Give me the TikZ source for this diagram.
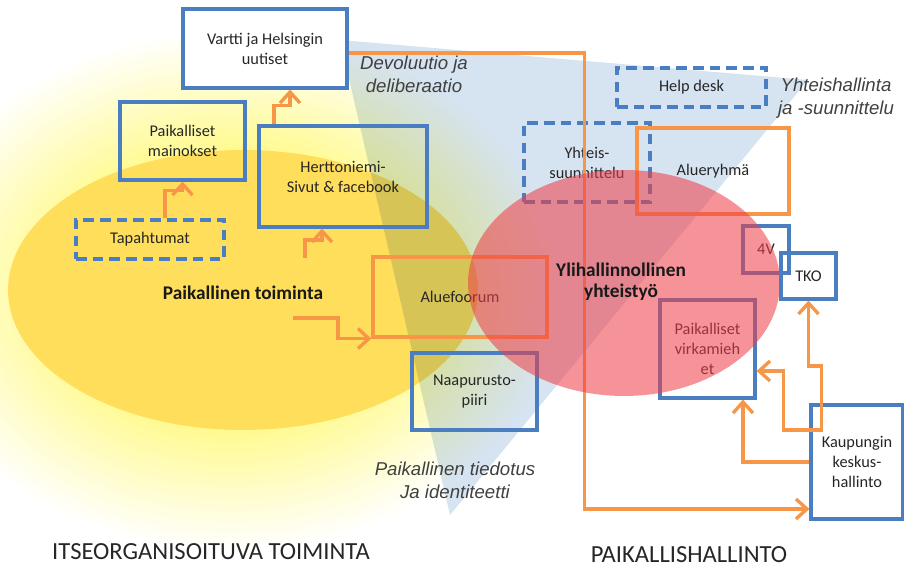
\documentclass[tikz,border=0pt]{standalone}
\usepackage{fontspec}
\setmainfont{Carlito}
\newfontfamily\arialfont{Liberation Sans}
\usetikzlibrary{arrows.meta}
\definecolor{boxblue}{RGB}{74,126,193}
\definecolor{lineorange}{RGB}{247,150,70}
\definecolor{glowyellow}{RGB}{255,250,140}
\definecolor{sunyellow}{RGB}{255,222,92}
\definecolor{wedgeblue}{RGB}{214,227,241}
\definecolor{govred}{RGB}{238,62,72}
\pgfdeclareradialshading{glowshade}{\pgfpointorigin}{color(0bp)=(glowyellow); color(13bp)=(glowyellow); color(25bp)=(white); color(50bp)=(white)}
\tikzstyle{every node} = [align = center, inner sep = 0pt]
\tikzstyle{bluebox} = [draw = boxblue, line width = 1.8pt, font = \fontsize{9.3}{11.4}\selectfont, text = black!85]
\tikzstyle{dashbox} = [bluebox, dash pattern = on 6pt off 3.5pt]
\tikzstyle{orangebox} = [bluebox, draw = lineorange]
\tikzstyle{arr} = [draw = lineorange, line width = 1.9pt, -{Straight Barb[length = 2.2mm, width = 4mm]}]
\tikzstyle{themelabel} = [font = \arialfont\itshape\fontsize{10.6}{13}\selectfont, text = black!75]
\tikzstyle{mainlabel} = [font = \bfseries\fontsize{11}{12.2}\selectfont, text = black!90]
\tikzstyle{realm} = [font = \fontsize{14}{16}\selectfont, text = black!85]
\begin{document}
\begin{tikzpicture}[x = 0.02cm, y = -0.02cm]
        \useasboundingbox (0, 0) rectangle (904, 570);
        % background areas
        \shade [shading = glowshade] (230, 290) ellipse (6.6cm and 5.2cm);
        \fill [sunyellow] (243, 290) ellipse (4.7cm and 2.8cm);
        \begin{scope}[blend mode = multiply]
            \fill [wedgeblue] (450, 515) -- (340, 40) -- (808, 80) -- cycle;
        \end{scope}
        % boxes
        \node [bluebox, fill = white, minimum width = 3.28cm, minimum height = 1.58cm] (vartti) at (265, 48.5) {Vartti ja Helsingin\\uutiset};
        \node [bluebox, minimum width = 2.5cm, minimum height = 1.56cm] (mainokset) at (182.5, 141) {Paikalliset\\mainokset};
        \node [bluebox, minimum width = 3.36cm, minimum height = 2.02cm] (sivut) at (343, 176.5) {Herttoniemi-\\Sivut \& facebook};
        \node [dashbox, minimum width = 2.96cm, minimum height = 0.78cm] (tapahtumat) at (150, 239.5) {Tapahtumat};
        \node [orangebox, minimum width = 3.48cm, minimum height = 1.6cm] (foorum) at (460, 297) {Aluefoorum};
        \node [bluebox, minimum width = 2.5cm, minimum height = 1.54cm] (naapurusto) at (474.5, 391.5) {Naapurusto-\\piiri};
        \node [dashbox, minimum width = 2.98cm, minimum height = 0.78cm] (helpdesk) at (691.5, 87.5) {Help desk};
        \node [dashbox, minimum width = 2.52cm, minimum height = 1.58cm] (yhteissuun) at (587, 162.5) {Yhteis-\\suunnittelu};
        \node [orangebox, minimum width = 3.04cm, minimum height = 1.72cm] (alueryhma) at (713, 171) {Alueryhmä};
        \node [bluebox, minimum width = 0.92cm, minimum height = 0.94cm] (nelivee) at (766, 249.5) {4V};
        \node [bluebox, minimum width = 1.1cm, minimum height = 0.92cm] (tko) at (808.5, 276) {TKO};
        \node [bluebox, minimum width = 1.9cm, minimum height = 1.96cm] (virkamiehet) at (707.5, 349) {Paikalliset\\virkamieh\\et};
        \node [bluebox, fill = white, minimum width = 1.84cm, minimum height = 2.28cm] (keskus) at (857, 462) {Kaupungin\\keskus-\\hallinto};
        % arrows
        \coordinate (sivutin) at (305, 258);
        \coordinate (toimintaout) at (293, 318);
        \draw [arr] ([xshift = 0.3cm]tapahtumat.north) -- ++(0, -28) -| (mainokset.south);
        \draw [arr] ([xshift = -1.38cm]sivut.north) -- ++(0, -19) -| ([xshift = 0.5cm]vartti.south);
        \draw [arr] (sivutin) -- ++(0, -18) -| ([xshift = -0.42cm]sivut.south);
        \draw [arr] (toimintaout) -- ++(45, 0) |- (foorum.south west);
        \draw [arr] ([yshift = -0.09cm]vartti.east) -- ++(236, 0) |- ([yshift = -0.94cm]keskus.west);
        \draw [arr] (keskus.west) -| ([xshift = 0.71cm]virkamiehet.south);
        \draw [arr, {Straight Barb[length = 2.2mm, width = 4mm]}-{Straight Barb[length = 2.2mm, width = 4mm]}] ([yshift = -0.44cm]virkamiehet.east) -| ++(27, 59) -| ++(38, -64) -| (tko.south);
        % cooperation area
        \fill [govred, opacity = 0.56] (624, 283) ellipse (3.12cm and 2.26cm);
        % labels
        \node [mainlabel] (toiminta) at (243, 293) {Paikallinen toiminta};
        \node [mainlabel] (ylihallinto) at (621, 282) {Ylihallinnollinen\\yhteistyö};
        \node [themelabel] (devoluutio) at (414, 74) {Devoluutio ja\\deliberaatio};
        \node [themelabel] (yhteishallinta) at (836, 98) {Yhteishallinta\\ja -suunnittelu};
        \node [themelabel] (tiedotus) at (455, 480) {Paikallinen tiedotus\\Ja identiteetti};
        \node [realm] (itseorg) at (211, 552) {ITSEORGANISOITUVA TOIMINTA};
        \node [realm] (paikallis) at (689, 555) {PAIKALLISHALLINTO};
    \end{tikzpicture}
\end{document}
